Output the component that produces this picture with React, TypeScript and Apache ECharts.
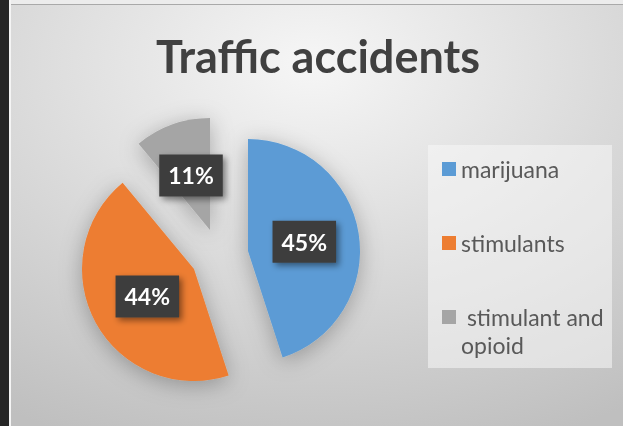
import React, { useEffect, useRef } from "react";
import * as echarts from "echarts";

// ---- data ----
const categories = ["marijuana", "stimulants", "stimulant and opioid"];
const shares = [45, 44, 11];
const sliceColors = ["#5B9BD5", "#ED7D31", "#A5A5A5"];
const legendLabels = ["marijuana", "stimulants", "\n stimulant and\nopioid"];
const titleText = "Traffic accidents";

// ---- layout (exploded slice centres, px) ----
const sliceCenters = [
  [248, 251],
  [194, 269],
  [210, 230],
];
const labelOffsets = [
  [-2, 0],
  [5, -1],
  [1, 1],
];
const legendTops = [155, 229, 275];

export default function App() {
  const ref = useRef<HTMLDivElement>(null);

  useEffect(() => {
    if (!ref.current) return;
    const chart = echarts.init(ref.current, null, { renderer: "svg" });

    const series = categories.map((_, i) => ({
      type: "pie",
      radius: 112,
      center: sliceCenters[i],
      startAngle: 90,
      clockwise: true,
      silent: true,
      avoidLabelOverlap: false,
      labelLine: { show: false },
      emphasis: { disabled: true },
      z: 2,
      data: categories.map((name, j) => ({
        name,
        value: shares[j],
        itemStyle:
          j === i
            ? {
                color: sliceColors[j],
                shadowBlur: 22,
                shadowColor: "rgba(0,0,0,0.28)",
                shadowOffsetY: 4,
              }
            : { color: "rgba(0,0,0,0)" },
        label:
          j === i
            ? {
                show: true,
                position: "inside",
                formatter: "{c}%",
                offset: labelOffsets[j],
                fontFamily: "Lato",
                fontWeight: "bold",
                fontSize: 23,
                lineHeight: 23,
                color: "#ffffff",
                backgroundColor: "#3e3e3e",
                padding: [10, 9, 9, 9],
                shadowBlur: 6,
                shadowColor: "rgba(0,0,0,0.45)",
                shadowOffsetX: 3,
                shadowOffsetY: 3,
              }
            : { show: false },
      })),
    }));

    const legends = categories.map((name, i) => ({
      orient: "vertical",
      left: 442,
      top: legendTops[i],
      padding: 0,
      icon: "rect",
      itemWidth: 14,
      itemHeight: 14,
      selectedMode: false,
      formatter: () => legendLabels[i],
      textStyle: {
        fontFamily: "Lato",
        fontSize: 23,
        lineHeight: 28,
        color: "#595959",
      },
      data: [{ name, itemStyle: { color: sliceColors[i] } }],
    }));

    chart.setOption({
      animation: false,
      backgroundColor: {
        type: "radial",
        x: 0.5,
        y: 0.15,
        r: 0.95,
        colorStops: [
          { offset: 0, color: "#f6f6f6" },
          { offset: 1, color: "#bfbfbf" },
        ],
      },
      title: {
        text: titleText,
        left: 318,
        textAlign: "center",
        top: 33,
        padding: 0,
        textStyle: {
          fontFamily: "Lato",
          fontWeight: "bold",
          fontSize: 45,
          color: "#404040",
        },
      },
      graphic: [
        { type: "rect", z: 0, shape: { x: 0, y: 0, width: 623, height: 4 }, style: { fill: "#ececec" } },
        { type: "rect", z: 0, shape: { x: 0, y: 4, width: 623, height: 1 }, style: { fill: "#a9a9a9" } },
        { type: "rect", z: 0, shape: { x: 0, y: 0, width: 9, height: 426 }, style: { fill: "#262626" } },
        { type: "rect", z: 0, shape: { x: 9, y: 0, width: 2, height: 426 }, style: { fill: "#f4f4f4" } },
        {
          type: "rect",
          z: 0,
          shape: { x: 428, y: 145, width: 184, height: 223 },
          style: { fill: "rgba(248,248,248,0.55)" },
        },
      ],
      legend: legends,
      series,
    });

    return () => chart.dispose();
  }, []);

  return (
    <div
      ref={ref}
      style={{ position: "fixed", left: 0, top: 0, width: 623, height: 426 }}
    />
  );
}
